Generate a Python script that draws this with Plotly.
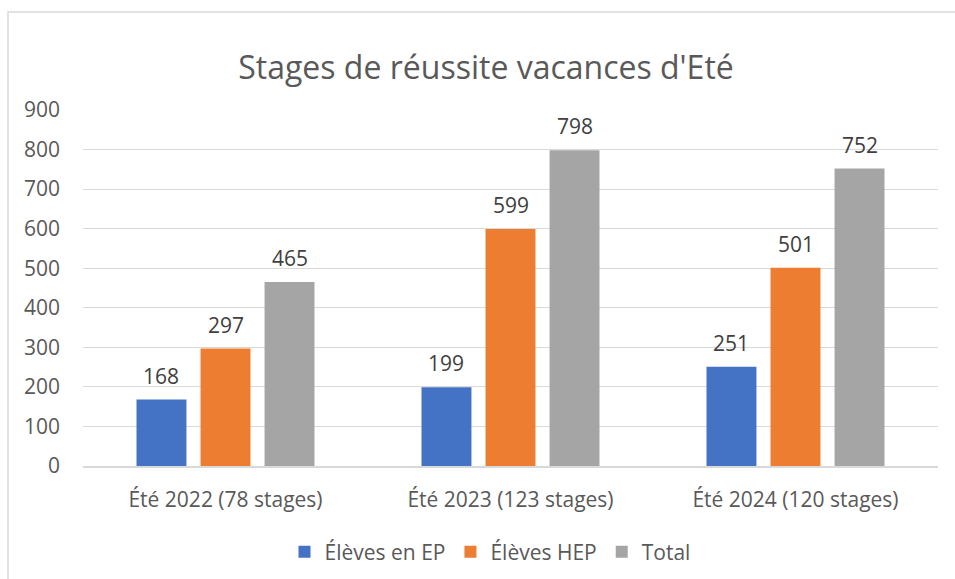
import plotly.graph_objects as go

categories = ["Été 2022 (78 stages)", "Été 2023 (123 stages)", "Été 2024 (120 stages)"]
series_names = ["Élèves en EP", "Élèves HEP", "Total"]
ep = [168, 199, 251]
hep = [297, 599, 501]
total = [465, 798, 752]
colors = ["#4472C4", "#ED7D31", "#A5A5A5"]
y_ticks = [0, 100, 200, 300, 400, 500, 600, 700, 800, 900]

FONT = "Open Sans, sans-serif"
FS = 21

W, H = 955, 579
L, R, T, B = 83, 17, 110, 113
pw, ph = W - L - R, H - T - B
BARGAP, GROUPGAP = 0.326, 0.22

def px_x(p):
    return (p - L) / pw

def px_y(p):
    return (H - B - p) / ph

fig = go.Figure()
all_series = [ep, hep, total]
n = len(all_series)
slot_px = pw / len(categories) * (1 - BARGAP) / n
annotations = []
for i, (name, vals, col) in enumerate(zip(series_names, all_series, colors)):
    fig.add_trace(go.Bar(
        x=categories, y=vals, name=name, marker=dict(color=col, line=dict(width=0)),
    ))
    for c, v in zip(categories, vals):
        annotations.append(dict(
            x=c, y=v, xref="x", yref="y", text=str(v), showarrow=False,
            xanchor="center", yanchor="bottom", xshift=(i - (n - 1) / 2) * slot_px, yshift=8,
            font=dict(size=FS, color="#404040", family=FONT),
        ))

fig.update_layout(
    width=W, height=H,
    margin=dict(l=L, r=R, t=T, b=B, autoexpand=False),
    paper_bgcolor="white", plot_bgcolor="white",
    barmode="group", bargap=BARGAP, bargroupgap=GROUPGAP,
    title=dict(text="Stages de réussite vacances d'Eté", x=486 / W,
               xanchor="center", y=1 - 68 / H, yanchor="middle",
               font=dict(size=32, color="#595959", family=FONT)),
    font=dict(family=FONT, color="#595959"),
    xaxis=dict(showgrid=False, showline=True, linecolor="#D9D9D9", linewidth=1.5,
               tickfont=dict(size=FS, color="#595959"), ticks="", ticklabelstandoff=14,
               automargin=False),
    yaxis=dict(range=[0, 900], tickvals=y_ticks, showgrid=True, gridcolor="#D9D9D9",
               gridwidth=1, zeroline=False, showline=False, ticks="",
               tickfont=dict(size=FS, color="#595959"), ticklabelstandoff=22,
               automargin=False),
    legend=dict(orientation="h", x=px_x(490), xanchor="center", y=px_y(552), yanchor="middle",
                font=dict(size=FS, color="#595959"), itemwidth=30, traceorder="normal"),
    showlegend=True,
    annotations=annotations,
    shapes=[dict(type="rect", xref="paper", yref="paper", x0=px_x(8), x1=px_x(1000),
                 y0=px_y(650), y1=px_y(12), line=dict(color="#D9D9D9", width=1.5),
                 fillcolor="rgba(0,0,0,0)", layer="below")],
)

fig.write_html("out.html", config={"displayModeBar": False},
               post_script="document.body.style.margin='0';document.body.style.overflow='hidden';")
